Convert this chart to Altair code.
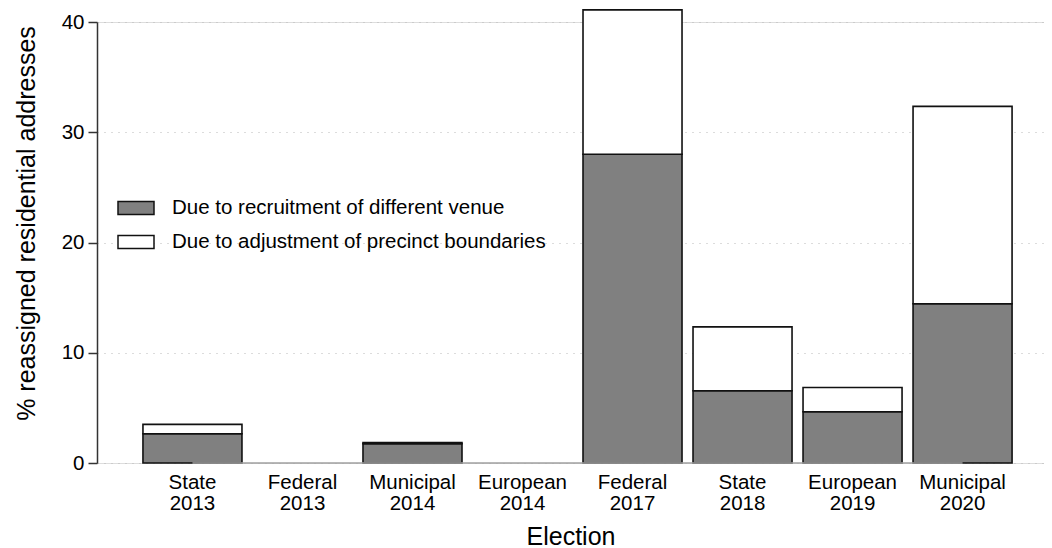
import altair as alt
import pandas as pd

elections = ["State 2013", "Federal 2013", "Municipal 2014", "European 2014",
             "Federal 2017", "State 2018", "European 2019", "Municipal 2020"]
recruitment = [2.65, 0.0, 1.75, 0.0, 28.0, 6.55, 4.65, 14.45]
adjustment = [0.85, 0.0, 0.1, 0.0, 13.1, 5.8, 2.2, 17.9]
series = ["Due to recruitment of different venue", "Due to adjustment of precinct boundaries"]
fills = ["#808080", "#ffffff"]
y_ticks = [0, 10, 20, 30, 40]

rows = []
for i, e in enumerate(elections):
    rows.append({"election": e, "series": series[0], "idx": 0, "value": recruitment[i]})
    rows.append({"election": e, "series": series[1], "idx": 1, "value": adjustment[i]})
df = pd.DataFrame(rows)

FONT = "Liberation Sans"

xscale = alt.Scale(domain=elections, paddingInner=0.1, paddingOuter=0.354, align=0.59)
yscale = alt.Scale(domain=[0, 40], nice=False, zero=True)

bars = alt.Chart(df).transform_filter("datum.value > 0").mark_bar(
    stroke="#111111", strokeWidth=1.6, opacity=1
).encode(
    x=alt.X("election:N", scale=xscale, sort=elections, title="Election",
            axis=alt.Axis(labelExpr="split(datum.label, ' ')", labelAngle=0,
                          ticks=False, tickSize=0, domain=False, grid=False,
                          labelFontSize=20.5, labelLineHeight=21, labelPadding=9,
                          labelFont=FONT, labelColor="black",
                          titleFont=FONT, titleFontSize=25, titleFontWeight="normal",
                          titleColor="black", titlePadding=11)),
    y=alt.Y("value:Q", stack="zero", scale=yscale,
            title="% reassigned residential addresses",
            axis=alt.Axis(values=y_ticks, tickSize=9, tickColor="#333333", tickWidth=1.5,
                          domainColor="#333333", domainWidth=1.5,
                          grid=True, gridDash=[1, 6], gridColor="#b8b8b8", gridWidth=1,
                          labelFontSize=20.5, labelPadding=4, labelFont=FONT, labelColor="black",
                          titleFont=FONT, titleFontSize=25, titleFontWeight="normal",
                          titleColor="black", titlePadding=22, titleY=201)),
    fill=alt.Fill("series:N", scale=alt.Scale(domain=series, range=fills),
                  legend=alt.Legend(title=None, orient="none", legendX=20, legendY=176,
                                    padding=0, labelFont=FONT, labelFontSize=20.5,
                                    labelColor="black", labelOffset=17, labelLimit=0,
                                    symbolType="M-1,-0.361L1,-0.361L1,0.361L-1,0.361Z",
                                    symbolSize=1296, symbolStrokeColor="#111111",
                                    symbolStrokeWidth=1.5, symbolOpacity=1,
                                    clipHeight=20, rowPadding=13)),
    order=alt.Order("idx:Q", sort="ascending"),
)

zero_df = pd.DataFrame({"start": [elections[0]], "end": [elections[-1]], "y": [0]})
zero_line = alt.Chart(zero_df).mark_rule(color="#a0a0a0", strokeWidth=1.5).encode(
    x=alt.X("start:N", scale=xscale, sort=elections),
    x2="end:N",
    y=alt.Y("y:Q", scale=yscale),
)

chart = alt.layer(bars, zero_line).properties(
    width=947, height=441,
    autosize=alt.AutoSizeParams(type="none"),
    padding={"left": 89, "top": 14, "right": 0, "bottom": 95},
).configure_view(stroke=None).configure(background="white")

chart.save("out.html", embed_options={"renderer": "svg", "actions": False})
